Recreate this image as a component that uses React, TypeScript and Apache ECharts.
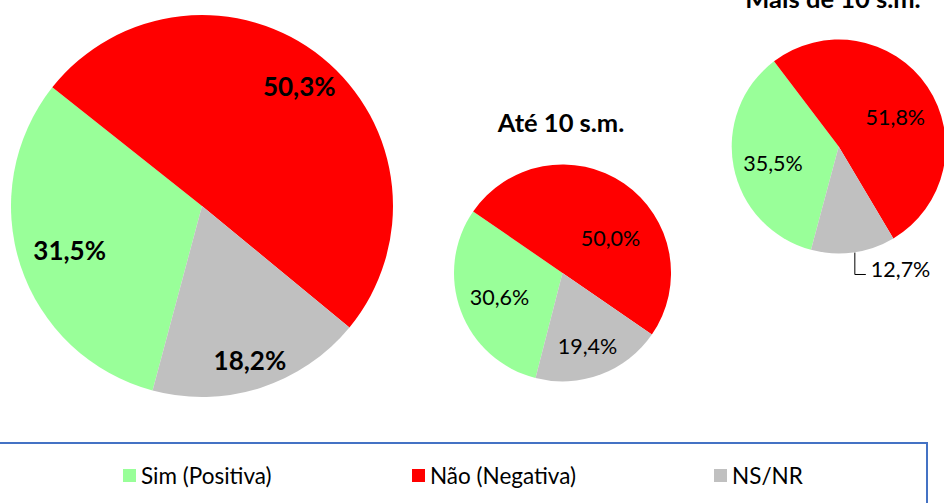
import React, { useEffect, useRef } from "react";
import * as echarts from "echarts";

// ---- Data ----
const categories = ["Sim (Positiva)", "Não (Negativa)", "NS/NR"];
const totalValues = [31.5, 50.3, 18.2];
const ateValues = [30.6, 50.0, 19.4];
const maisValues = [35.5, 51.8, 12.7];
const pieTitles = ["", "Até 10 s.m.", "Mais de 10 s.m."];

// ---- Style ----
const colors = ["#99FF99", "#FF0000", "#C0C0C0"];
const FONT = "Lato";

type PieCfg = {
  values: number[];
  center: [number, number];
  radius: number;
  startAngle: number;
  fontSize: number;
  fontWeight: string;
  // [radius factor, angle offset in degrees] for inside labels; null => outside with leader
  labelPlace: ([number, number] | null)[];
  titlePos: [number, number] | null;
};

const pies: PieCfg[] = [
  {
    values: totalValues,
    center: [202, 206],
    radius: 191,
    startAngle: 255,
    fontSize: 26,
    fontWeight: "bold",
    labelPlace: [[0.73, 0], [0.81, 0], [0.845, 0.5]],
    titlePos: null,
  },
  {
    values: ateValues,
    center: [562.5, 273],
    radius: 108.5,
    startAngle: 255.6,
    fontSize: 21.5,
    fontWeight: "normal",
    labelPlace: [[0.62, 0], [0.547, 19.4], [0.71, 1.6]],
    titlePos: [561, 122.4],
  },
  {
    values: maisValues,
    center: [838.7, 146.5],
    radius: 107,
    startAngle: 255,
    fontSize: 21.5,
    fontWeight: "normal",
    labelPlace: [[0.633, -2.9], [0.598, 6.2], null],
    titlePos: [833, -1.6],
  },
];

const legendLefts = [123, 412, 714];

const fmt = (v: number) => v.toFixed(1).replace(".", ",") + "%";

function midCompass(p: PieCfg, i: number) {
  const total = p.values.reduce((a, b) => a + b, 0);
  let before = 0;
  for (let j = 0; j < i; j++) before += p.values[j];
  const start = 90 - p.startAngle;
  return start + (360 * (before + p.values[i] / 2)) / total;
}

export default function App() {
  const ref = useRef<HTMLDivElement>(null);
  useEffect(() => {
    if (!ref.current) return;
    const chart = echarts.init(ref.current, undefined, { renderer: "svg" });

    const series = pies.map((p) => ({
      type: "pie",
      center: p.center,
      radius: p.radius,
      startAngle: p.startAngle,
      clockwise: true,
      avoidLabelOverlap: false,
      animation: false,
      label: {
        show: true,
        position: "inside",
        formatter: (prm: any) => fmt(prm.value),
        fontFamily: FONT,
        fontSize: p.fontSize,
        fontWeight: p.fontWeight,
        color: "#000",
      },
      labelLine: { show: false },
      emphasis: { disabled: true },
      data: p.values.map((v, i) => {
        const item: any = { name: categories[i], value: v, itemStyle: { color: colors[i] } };
        if (!p.labelPlace[i]) {
          item.label = { position: "outside" };
          item.labelLine = { show: true, length: 20, length2: 10, lineStyle: { color: "#000", width: 1 } };
        }
        return item;
      }),
      labelLayout: (params: any) => {
        const i = params.dataIndex;
        const place = p.labelPlace[i];
        const [cx, cy] = p.center;
        if (place) {
          const a = ((midCompass(p, i) + place[1]) * Math.PI) / 180;
          return {
            x: cx + place[0] * p.radius * Math.sin(a),
            y: cy - place[0] * p.radius * Math.cos(a),
            align: "center",
            verticalAlign: "middle",
          };
        }
        const a = (midCompass(p, i) * Math.PI) / 180;
        const ex = cx + p.radius * Math.sin(a) + 1.5;
        const ey = cy - p.radius * Math.cos(a);
        const down = 22;
        const side = 11;
        return {
          x: ex + side + 5,
          y: ey + down - 5.5,
          align: "left",
          verticalAlign: "middle",
          labelLinePoints: [
            [ex, ey],
            [ex, ey + down],
            [ex + side, ey + down],
          ],
        };
      },
    }));

    const graphics: any[] = [
      {
        type: "rect",
        shape: { x: -5, y: 443, width: 932, height: 100 },
        style: { fill: "none", stroke: "#4472C4", lineWidth: 2 },
        silent: true,
      },
    ];
    pies.forEach((p, si) => {
      if (p.titlePos && pieTitles[si]) {
        graphics.push({
          type: "text",
          x: p.titlePos[0],
          y: p.titlePos[1],
          style: {
            text: pieTitles[si],
            fontFamily: FONT,
            fontSize: 25.5,
            fontWeight: "bold",
            fill: "#000",
            align: "center",
            verticalAlign: "middle",
          },
        });
      }
    });

    chart.setOption({
      animation: false,
      legend: categories.map((c, i) => ({
        data: [c],
        left: legendLefts[i],
        top: 464,
        padding: 0,
        itemWidth: 13,
        itemHeight: 13,
        icon: "rect",
        selectedMode: false,
        textStyle: { fontFamily: FONT, fontSize: 22.5, color: "#000" },
      })),
      graphic: graphics,
      series,
    });
    return () => chart.dispose();
  }, []);
  return (
    <div
      ref={ref}
      style={{ position: "fixed", left: 0, top: 0, width: 944, height: 503, background: "#fff" }}
    />
  );
}
